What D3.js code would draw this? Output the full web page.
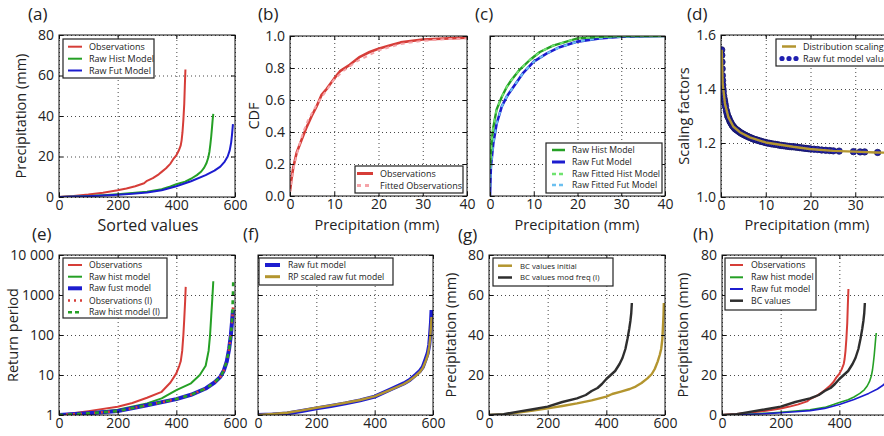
<!DOCTYPE html>
<html><head><meta charset="utf-8">
<script src="https://cdn.jsdelivr.net/npm/d3@7"></script>
<style>body{margin:0;background:#fff} svg text{font-family:"Open Sans",sans-serif;fill:#222}</style>
</head><body><svg id="c" width="884" height="436"></svg>
<script>
// ---------- data ----------
// (a)/(h) sorted values
const sortIdxObs = [0,20,50,100,150,200,230,260,290,300,320,340,350,365,380,390,400,408,415,418,421,424,427,429,431];
const sortValObs = [0,0.2,0.5,1.2,2.1,3.3,4.2,5.3,6.8,8.0,9.3,11.2,12.4,14.2,16.5,18.8,20.6,22.8,25.5,28,32,38,46,55,63];
const sortIdxHist = [0,50,100,150,200,250,300,350,380,400,430,450,470,485,495,503,509,513,516,519,522,524,526];
const sortValHist = [0,0.2,0.5,0.9,1.4,2.0,2.6,3.8,5.2,6.3,7.6,9.0,10.8,12.6,14.5,16.8,19.5,22.5,26,30,35,38.5,41];
const sortIdxFut = [0,50,100,150,200,250,300,350,400,450,500,530,550,565,575,582,587,590,593];
const sortValFut = [0,0.2,0.4,0.7,1.1,1.6,2.2,3.3,5.3,7.8,10.8,13,15,17.5,20,23,27,31,36];
const sortIdxBC = [0,50,100,150,200,250,300,330,350,370,385,400,415,430,445,455,465,472,478,482,485,487];
const sortValBC = [0,0.4,1.7,2.9,4.2,6.5,8.3,10,12,13.5,15.5,18,20,22,25.5,28.5,33,38,43,47,51,56];
const sortIdxBCi = [0,50,100,150,200,250,300,350,400,420,450,480,500,520,540,555,565,575,582,587,591,593,595,596];
const sortValBCi = [0,0.3,1.2,2.2,3.3,4.5,5.8,7.3,9.2,10.5,11.7,13,14.2,16,18.3,20.5,23,26.7,30,33,38,44,50,56];
// (b) CDF observations
const cdfObsX = [0,0.3,0.75,1.5,2.6,3.6,4.9,6,7.1,8.3,10,11.3,13.5,15.8,18,20,22.5,25,30,36,40];
const cdfObsY = [0.03,0.1,0.18,0.27,0.35,0.42,0.5,0.56,0.63,0.67,0.735,0.78,0.82,0.87,0.90,0.92,0.94,0.96,0.978,0.985,0.99];
const cdfFitX = [0,0.5,1,2,3,4,5,6,8,10,12,15,20,25,30,35,40];
const cdfFitY = [0.02,0.12,0.2,0.31,0.4,0.47,0.52,0.57,0.65,0.73,0.78,0.84,0.91,0.95,0.97,0.98,0.985];
// (c) CDF models
const cdfHistX = [0,0.1,0.4,0.76,1.5,2.7,3.8,4.9,6.8,9.1,11.4,14.4,20,25,30,40];
const cdfHistY = [0.18,0.22,0.35,0.43,0.54,0.62,0.68,0.725,0.79,0.85,0.9,0.94,0.985,0.995,1,1];
const cdfFutX = [0,0.2,0.76,1.5,2.7,3.8,5.3,7.6,10,12.9,15.9,20,25,30,40];
const cdfFutY = [0,0.18,0.33,0.45,0.56,0.62,0.68,0.77,0.84,0.89,0.93,0.965,0.985,0.995,1];
// (d) scaling factors
const scaleX = [0.15,0.37,0.89,1.63,2.74,4.22,6.44,10,16.1,19.8,25,29.8,34.6,38];
const scaleY = [1.545,1.42,1.345,1.296,1.261,1.24,1.221,1.202,1.186,1.178,1.171,1.168,1.165,1.164];
const dotX = [0.15,0.18,0.22,0.26,0.3,0.35,0.4,0.45,0.5,0.6,0.7,0.8,0.9,1.0,1.2,1.35,1.5,1.65,1.8,2.0,2.1,2.3,2.5,2.7,2.9,3.1,3.3,3.55,3.8,4.05,4.3,4.55,4.8,5.1,5.4,5.7,6.0,6.35,6.7,7.05,7.4,7.8,8.2,8.6,9.0,9.45,9.9,10.35,10.8,11.25,11.7,12.15,12.6,13.05,13.5,13.95,14.4,14.85,15.3,15.75,16.2,16.65,17.1,17.55,18.0,18.5,19.0,19.5,20.0,20.8,21.6,22.5,23.4,24.3,25.1,26.4,29.6,31.1,32.1,35.0];
const dotY = [1.545,1.525,1.50,1.475,1.45,1.432,1.415,1.40,1.39,1.375,1.364,1.355,1.345,1.335,1.32,1.31,1.30,1.295,1.29,1.281,1.278,1.272,1.266,1.262,1.258,1.254,1.251,1.248,1.245,1.242,1.239,1.236,1.234,1.231,1.229,1.226,1.224,1.221,1.219,1.216,1.214,1.212,1.21,1.208,1.206,1.204,1.202,1.2,1.199,1.197,1.196,1.195,1.194,1.192,1.191,1.19,1.189,1.188,1.187,1.186,1.186,1.185,1.184,1.183,1.182,1.181,1.18,1.179,1.178,1.177,1.176,1.174,1.173,1.172,1.171,1.17,1.168,1.167,1.167,1.165];
// (e) return periods
const retIdxObs = [0,100,200,250,300,350,380,400,410,415,420,424,427,430,432];
const retObs = [1,1.25,1.6,2.0,2.7,3.8,6.5,11,17,22,40,100,250,700,1600];
const retIdxHist = [0,100,200,300,350,400,450,480,500,510,515,519,523,526];
const retHist = [1,1.12,1.35,1.95,2.6,4.2,6.2,10,17,40,100,300,900,2200];
const retIdxFut = [0,100,200,300,400,450,500,530,550,562,572,580,586,590,593];
const retFut = [1,1.1,1.25,1.75,2.5,3.2,4.6,6.5,9,13,22,45,100,220,420];
const retIdxI = [0,100,200,300,400,450,500,530,550,562,572,580,586,590,593,594];
const retObsI = [1,1.1,1.25,1.75,2.5,3.2,4.6,6.5,9,13,22,45,100,230,450,600];
const retHistI = [1,1.1,1.25,1.75,2.5,3.2,4.6,6.5,9,13,22,45,100,240,1000,2200];
// (f) return-period scaling
const rpIdx = [0,50,100,150,200,250,300,350,400,450,500,520,540,555,565,575,582,587,590,593,595];
const rpFut = [0,0.3,0.8,2,3.3,4.5,5.8,7.3,9.2,12.5,15.8,17.5,20,22,24,28,31,35,40,46,52.5];
const rpScaled = [0,0.5,1.1,2.3,3.6,4.8,6.1,7.5,9.3,12.3,15.5,17.3,19.5,21.5,23.5,27,30,34,38,44,49];
// ticks
const ticksIdx = [0,200,400,600];
const ticksIdxCut = [0,200,400];
const ticksPrec = [0,20,40,60,80];
const ticksCdf = [0,0.2,0.4,0.6,0.8,1.0];
const ticksMm = [0,10,20,30,40];
const ticksMmCut = [0,10,20,30];
const ticksScale = [1.0,1.2,1.4,1.6];
const ticksRet = [1,10,100,1000,10000];

// ---------- colours ----------
const RED = '#d63d38', GREEN = '#25a025', BLUE = '#1c1ccf', GOLD = '#b3952f', BLACK = '#2e2e2e';
const PINK = '#f5a3a8', LGREEN = '#6fe36f', LBLUE = '#6cc0f0';

const svg = d3.select('#c');
const defs = svg.append('defs');

function panel(o) {
  const x = d3.scaleLinear().domain(o.xd).range([o.l, o.r]);
  const y = (o.ylog ? d3.scaleLog() : d3.scaleLinear()).domain(o.yd).range([o.b, o.t]);
  const w = o.r - o.l, h = o.b - o.t;
  const cid = 'clip-' + o.id;
  defs.append('clipPath').attr('id', cid).append('rect')
    .attr('x', o.l).attr('y', o.t).attr('width', w).attr('height', h);
  const root = svg.append('g');
  const xt = o.xt, xl = o.xl || o.xt;
  // grid
  const gx = root.append('g').attr('transform', `translate(0,${o.b})`)
    .call(d3.axisBottom(x).tickValues(xt).tickSize(-h).tickFormat(''));
  const gy = root.append('g').attr('transform', `translate(${o.l},0)`)
    .call(d3.axisLeft(y).tickValues(o.yt).tickSize(-w).tickFormat(''));
  [gx, gy].forEach(g => {
    g.select('.domain').remove();
    g.selectAll('line').attr('stroke', '#333').attr('stroke-width', 0.9).attr('stroke-dasharray', '1,3');
  });
  const plot = root.append('g').attr('clip-path', `url(#${cid})`);
  o.series.forEach(s => {
    const pts = d3.zip(s.xs, s.ys);
    if (s.dots) {
      plot.selectAll(null).data(pts).enter().append('circle')
        .attr('cx', d => x(d[0])).attr('cy', d => y(d[1])).attr('r', s.r || 3)
        .attr('fill', s.color).attr('stroke', s.stroke || 'none').attr('stroke-width', 0.8);
    } else {
      plot.append('path').datum(pts)
        .attr('d', d3.line().x(d => x(d[0])).y(d => y(d[1])))
        .attr('fill', 'none').attr('stroke', s.color).attr('stroke-width', s.width || 2)
        .attr('stroke-dasharray', s.dash || null).attr('stroke-linejoin', 'round');
    }
  });
  // frame
  root.append('rect').attr('x', o.l).attr('y', o.t).attr('width', w).attr('height', h)
    .attr('fill', 'none').attr('stroke', '#111').attr('stroke-width', 1);
  // axes with inward ticks
  const ax = [
    root.append('g').attr('transform', `translate(0,${o.b})`)
      .call(d3.axisBottom(x).tickValues(xl).tickSize(-4).tickPadding(3).tickFormat(o.xf || (d => d))),
    root.append('g').attr('transform', `translate(0,${o.t})`)
      .call(d3.axisTop(x).tickValues(xt).tickSize(-4).tickFormat('')),
    root.append('g').attr('transform', `translate(${o.l},0)`)
      .call(d3.axisLeft(y).tickValues(o.yt).tickSize(-4).tickPadding(5).tickFormat(o.yf === null ? '' : (o.yf || (d => d)))),
    root.append('g').attr('transform', `translate(${o.r},0)`)
      .call(d3.axisRight(y).tickValues(o.yt).tickSize(-4).tickFormat(''))
  ];
  ax.forEach(g => {
    g.select('.domain').remove();
    g.selectAll('line').attr('stroke', '#111');
    g.selectAll('text').style('font-size', '14px').attr('fill', '#222');
  });
  return { x, y };
}

function legend(o) {
  const g = svg.append('g');
  g.append('rect').attr('x', o.x).attr('y', o.y).attr('width', o.w).attr('height', o.h)
    .attr('fill', '#fff').attr('stroke', '#222').attr('stroke-width', 1.2);
  o.items.forEach(it => {
    if (it.dots) {
      [0, 0.5, 1].forEach(f => g.append('circle').attr('cx', o.s1 + f * (o.s2 - o.s1)).attr('cy', it.y)
        .attr('r', 2.6).attr('fill', it.color));
    } else {
      g.append('line').attr('x1', o.s1).attr('x2', o.s2).attr('y1', it.y).attr('y2', it.y)
        .attr('stroke', it.color).attr('stroke-width', it.width || 2).attr('stroke-dasharray', it.dash || null);
    }
    g.append('text').attr('x', o.tx).attr('y', it.y + o.fs * 0.36).text(it.label)
      .style('font-size', o.fs + 'px').attr('fill', '#333');
  });
}

function label(txt, x, y, size, rot) {
  const t = svg.append('text').attr('text-anchor', 'middle').style('font-size', size + 'px').text(txt);
  if (rot) t.attr('transform', `translate(${x},${y}) rotate(-90)`).attr('dy', '0.35em');
  else t.attr('x', x).attr('y', y);
}
function plabel(txt, x, y) {
  svg.append('text').attr('x', x).attr('y', y).style('font-size', '17px').text(txt);
}

const fmt1 = d3.format('.1f');

// (a)
panel({ id: 'a', l: 59, r: 235, t: 35, b: 197, xd: [0, 600], yd: [0, 80], xt: ticksIdx, yt: ticksPrec,
  series: [
    { xs: sortIdxObs, ys: sortValObs, color: RED, width: 2 },
    { xs: sortIdxHist, ys: sortValHist, color: GREEN, width: 2 },
    { xs: sortIdxFut, ys: sortValFut, color: BLUE, width: 2 }
  ] });
legend({ x: 63, y: 39, w: 91, h: 39, s1: 68, s2: 82, tx: 89, fs: 9, items: [
  { label: 'Observations', color: RED, y: 46.7 },
  { label: 'Raw Hist Model', color: GREEN, y: 58.7 },
  { label: 'Raw Fut Model', color: BLUE, y: 70.5 }] });

// (b)
panel({ id: 'b', l: 290, r: 467, t: 36, b: 196, xd: [0, 40], yd: [0, 1], xt: ticksMm, yt: ticksCdf, yf: fmt1,
  series: [
    { xs: cdfObsX, ys: cdfObsY, color: RED, width: 2.6 },
    { xs: cdfFitX, ys: cdfFitY, color: PINK, width: 2, dash: '4,4' }
  ] });
legend({ x: 355, y: 166, w: 108, h: 27, s1: 357, s2: 373, tx: 380, fs: 9, items: [
  { label: 'Observations', color: RED, width: 3, y: 173.5 },
  { label: 'Fitted Observations', color: PINK, width: 3, dash: '4,4', y: 185.5 }] });

// (c)
panel({ id: 'c', l: 490, r: 665, t: 36, b: 196, xd: [0, 40], yd: [0, 1], xt: ticksMm, yt: ticksCdf, yf: null,
  series: [
    { xs: cdfFutX, ys: cdfFutY, color: BLUE, width: 2.6 },
    { xs: cdfFutX, ys: cdfFutY, color: LBLUE, width: 2, dash: '4,5' },
    { xs: cdfHistX, ys: cdfHistY, color: GREEN, width: 2.4 },
    { xs: cdfHistX, ys: cdfHistY, color: LGREEN, width: 1.8, dash: '4,5' }
  ] });
legend({ x: 546, y: 143, w: 116, h: 50, s1: 552, s2: 565, tx: 572, fs: 8.7, items: [
  { label: 'Raw Hist Model', color: GREEN, width: 2.5, y: 150 },
  { label: 'Raw Fut Model', color: BLUE, width: 3, y: 162 },
  { label: 'Raw Fitted Hist Model', color: LGREEN, width: 2.5, dash: '4,3', y: 174 },
  { label: 'Raw Fitted Fut Model', color: LBLUE, width: 2.5, dash: '4,3', y: 185 }] });

// (d)
panel({ id: 'd', l: 721, r: 900, t: 35, b: 197, xd: [0, 40], yd: [1, 1.6], xt: ticksMm, xl: ticksMmCut, yt: ticksScale, yf: fmt1,
  series: [
    { xs: dotX, ys: dotY, color: '#1f1fb0', dots: true, r: 3.2, stroke: '#15155e' },
    { xs: scaleX, ys: scaleY, color: GOLD, width: 2.4 }
  ] });
legend({ x: 776, y: 39, w: 140, h: 27, s1: 782, s2: 796, tx: 803, fs: 9, items: [
  { label: 'Distribution scaling', color: GOLD, width: 2.5, y: 46.5 },
  { label: 'Raw fut model values', color: '#1f1fb0', dots: true, y: 58.5 }] });

// (e)
panel({ id: 'e', l: 59, r: 235, t: 255, b: 415, xd: [0, 600], yd: [1, 10000], ylog: true, xt: ticksIdx, yt: ticksRet,
  yf: d => d === 10000 ? '10 000' : String(d),
  series: [
    { xs: retIdxObs, ys: retObs, color: RED, width: 2 },
    { xs: retIdxHist, ys: retHist, color: GREEN, width: 2 },
    { xs: retIdxFut, ys: retFut, color: BLUE, width: 4 },
    { xs: retIdxI, ys: retObsI, color: RED, width: 2.6, dash: '2,5' },
    { xs: retIdxI, ys: retHistI, color: GREEN, width: 2.6, dash: '4,5' }
  ] });
legend({ x: 63, y: 258, w: 104, h: 60, s1: 68, s2: 82, tx: 89, fs: 8.6, items: [
  { label: 'Observations', color: RED, y: 265 },
  { label: 'Raw hist model', color: GREEN, y: 276.7 },
  { label: 'Raw fust model', color: BLUE, width: 4, y: 288.3 },
  { label: 'Observations (I)', color: RED, width: 2.5, dash: '2,4', y: 300.5 },
  { label: 'Raw hist model  (I)', color: GREEN, width: 2.5, dash: '4,3', y: 312.2 }] });

// (f)
panel({ id: 'f', l: 258, r: 433, t: 255, b: 415, xd: [0, 600], yd: [0, 80], xt: ticksIdx, yt: ticksPrec, yf: null,
  series: [
    { xs: rpIdx, ys: rpFut, color: BLUE, width: 4 },
    { xs: rpIdx, ys: rpScaled, color: GOLD, width: 2.4 }
  ] });
legend({ x: 259, y: 258, w: 134, h: 27, s1: 265, s2: 280, tx: 288, fs: 8.6, items: [
  { label: 'Raw fut model', color: BLUE, width: 4, y: 265 },
  { label: 'RP scaled raw fut model', color: GOLD, width: 3, y: 276.7 }] });

// (g)
panel({ id: 'g', l: 489, r: 665, t: 255, b: 415, xd: [0, 600], yd: [0, 80], xt: ticksIdx, yt: ticksPrec,
  series: [
    { xs: sortIdxBCi, ys: sortValBCi, color: GOLD, width: 2.4 },
    { xs: sortIdxBC, ys: sortValBC, color: BLACK, width: 2.4 }
  ] });
legend({ x: 493, y: 258, w: 120, h: 28, s1: 498, s2: 512, tx: 520, fs: 7.8, items: [
  { label: 'BC values initial', color: GOLD, width: 2.5, y: 265.7 },
  { label: 'BC values mod freq (I)', color: BLACK, width: 2.5, y: 277.5 }] });

// (h)
panel({ id: 'h', l: 722, r: 898, t: 255, b: 415, xd: [0, 600], yd: [0, 80], xt: ticksIdx, xl: ticksIdxCut, yt: ticksPrec,
  series: [
    { xs: sortIdxObs, ys: sortValObs, color: RED, width: 2 },
    { xs: sortIdxHist, ys: sortValHist, color: GREEN, width: 1.6 },
    { xs: sortIdxFut, ys: sortValFut, color: BLUE, width: 1.6 },
    { xs: sortIdxBC, ys: sortValBC, color: BLACK, width: 2.4 }
  ] });
legend({ x: 725, y: 258, w: 91, h: 52, s1: 730, s2: 743, tx: 751, fs: 8.8, items: [
  { label: 'Observations', color: RED, y: 265 },
  { label: 'Raw hist model', color: GREEN, y: 277.3 },
  { label: 'Raw fut model', color: BLUE, y: 289 },
  { label: 'BC values', color: BLACK, width: 2.5, y: 300.7 }] });

// axis titles
label('Precipitation (mm)', 21, 116, 14.5, true);
label('Sorted values', 148, 231, 16);
label('CDF', 254, 116, 14.5, true);
label('Precipitation (mm)', 377, 229.5, 14.5);
label('Precipitation (mm)', 577, 229.5, 14.5);
label('Scaling factors', 684, 116, 14.5, true);
label('Precipitation (mm)', 807, 229.5, 14.5);
label('Return period', 13, 335, 14.5, true);
label('Precipitation (mm)', 451, 335, 14.5, true);
label('Precipitation (mm)', 683, 335, 14.5, true);

// panel letters
plabel('(a)', 28, 20); plabel('(b)', 258, 20); plabel('(c)', 475, 20); plabel('(d)', 687, 20);
plabel('(e)', 32, 240); plabel('(f)', 243, 240); plabel('(g)', 458, 241); plabel('(h)', 693, 240);
</script></body></html>
